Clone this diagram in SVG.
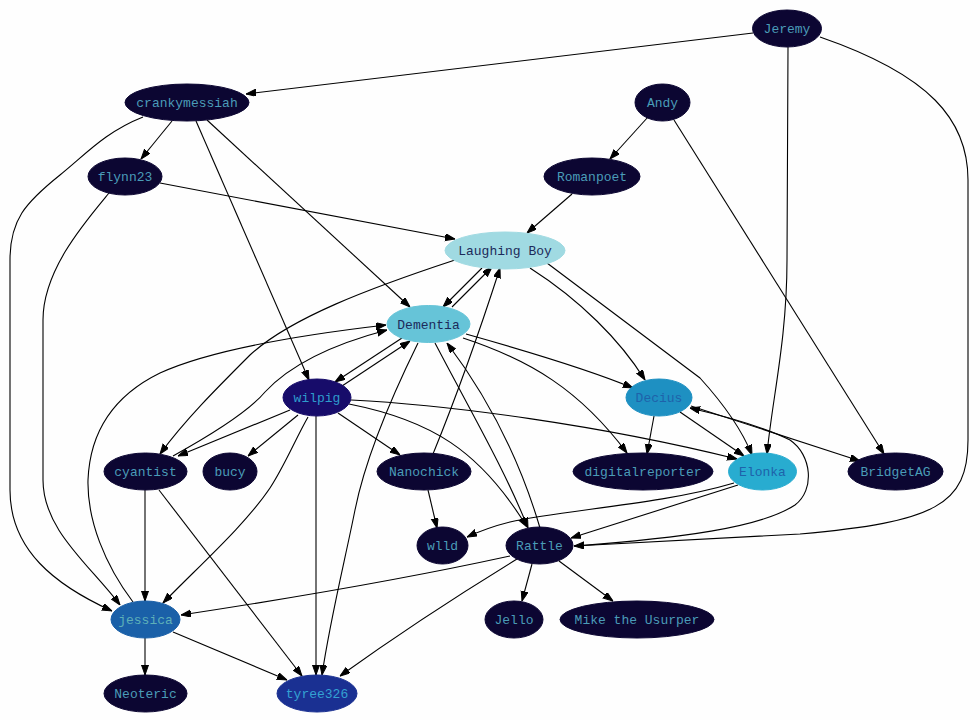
<svg xmlns="http://www.w3.org/2000/svg" width="980" height="720" viewBox="0 0 980 720">
<defs>
<marker id="ah" markerUnits="userSpaceOnUse" markerWidth="10" markerHeight="8" refX="10" refY="3.5" orient="auto">
<path d="M0,0 L10,3.5 L0,7 z" fill="#000" stroke="#000" stroke-width="1"/>
</marker>
<style>
.e{fill:none;stroke:#000;stroke-width:1.1;marker-end:url(#ah)}
text{font-family:"Liberation Mono","DejaVu Sans Mono",monospace;font-size:13px;text-anchor:middle}
.dk ellipse{fill:#0c0632;stroke:#0c0632}
.dk text{fill:#4a9cb8}
</style>
</defs>
<rect width="980" height="720" fill="#fefefe"/>
<g id="edges">
<path class="e" d="M753,33 L246,94"/>
<path class="e" d="M788,47 L787,260 C787,340 772,400 767,454"/>
<path class="e" d="M820,37 C930,75 968,120 968,180 L968,440 C968,505 935,522 800,534 L574,546"/>
<path class="e" d="M172,121 L141,159"/>
<path class="e" d="M143,117 C105,132 85,155 60,175 C25,203 10,220 10,260 L10,490 C10,550 55,585 112,611"/>
<path class="e" d="M196,121 L309,380"/>
<path class="e" d="M207,120 L410,307"/>
<path class="e" d="M648,117 L610,159"/>
<path class="e" d="M674,120 L884,454"/>
<path class="e" d="M160,183 L455,239"/>
<path class="e" d="M109,193 C85,222 43,270 43,320 L43,480 C43,530 90,565 120,605"/>
<path class="e" d="M572,194 L527,233"/>
<path class="e" d="M482,268 L443,307"/>
<path class="e" d="M452,307 L492,267"/>
<path class="e" d="M455,260 C370,288 290,318 250,355 C215,390 185,420 160,454"/>
<path class="e" d="M530,268 C580,300 620,340 645,380"/>
<path class="e" d="M547,263 L700,378 C720,400 740,425 752,455"/>
<path class="e" d="M433,454 C455,400 480,330 500,268"/>
<path class="e" d="M466,334 C530,352 590,370 633,388"/>
<path class="e" d="M463,338 C530,360 580,390 627,453"/>
<path class="e" d="M402,338 L335,382"/>
<path class="e" d="M342,386 L410,341"/>
<path class="e" d="M173,456 C220,430 250,410 265,392 C290,365 330,345 387,330"/>
<path class="e" d="M290,410 L178,456"/>
<path class="e" d="M133,602 C105,565 87,520 88,480 C90,430 115,395 160,373 C210,350 300,335 386,325"/>
<path class="e" d="M418,343 C390,400 365,460 355,510 C345,560 330,620 322,675"/>
<path class="e" d="M435,343 C470,410 505,470 528,528"/>
<path class="e" d="M540,528 C520,460 490,400 447,343"/>
<path class="e" d="M349,404 C430,420 480,450 527,527"/>
<path class="e" d="M298,415 L248,456"/>
<path class="e" d="M338,413 L400,455"/>
<path class="e" d="M308,417 C295,440 285,465 270,488 C245,525 200,565 163,603"/>
<path class="e" d="M316,416 L316,675"/>
<path class="e" d="M351,400 C450,405 600,425 737,459"/>
<path class="e" d="M654,416 L647,454"/>
<path class="e" d="M680,412 L744,456"/>
<path class="e" d="M691,406 L860,461"/>
<path class="e" d="M574,546 C680,538 760,528 795,505 C815,490 812,455 790,440 C760,425 720,415 690,408"/>
<path class="e" d="M734,483 C660,505 560,510 510,522 C490,527 478,532 467,537"/>
<path class="e" d="M738,485 L571,538"/>
<path class="e" d="M428,490 L437,528"/>
<path class="e" d="M510,556 C400,580 280,600 181,615"/>
<path class="e" d="M517,559 C450,600 390,640 340,676"/>
<path class="e" d="M532,564 L522,601"/>
<path class="e" d="M559,561 L613,601"/>
<path class="e" d="M145,490 L145,601"/>
<path class="e" d="M159,490 L302,676"/>
<path class="e" d="M145,637 L145,675"/>
<path class="e" d="M173,632 L287,680"/>
</g>
<g id="Jeremy" class="dk"><ellipse cx="787" cy="28.5" rx="34.5" ry="18.5"/><text x="787" y="33">Jeremy</text></g>
<g id="crankymessiah" class="dk"><ellipse cx="187" cy="102.5" rx="62" ry="18.5"/><text x="187" y="107">crankymessiah</text></g>
<g id="Andy" class="dk"><ellipse cx="662.5" cy="102.5" rx="27.5" ry="18.5"/><text x="662.5" y="107">Andy</text></g>
<g id="flynn23" class="dk"><ellipse cx="125" cy="176.5" rx="37" ry="18.5"/><text x="125" y="181">flynn23</text></g>
<g id="Romanpoet" class="dk"><ellipse cx="592" cy="176.5" rx="48" ry="18.5"/><text x="592" y="181">Romanpoet</text></g>
<g id="LaughingBoy"><ellipse cx="505" cy="250.5" rx="60" ry="18.5" fill="#a0dae2" stroke="#a0dae2"/><text x="505" y="255" fill="#1c2a5a">Laughing Boy</text></g>
<g id="Dementia"><ellipse cx="428.5" cy="324" rx="41.5" ry="18.5" fill="#66c4d8" stroke="#66c4d8"/><text x="428.5" y="328.5" fill="#1c2a5a">Dementia</text></g>
<g id="wilpig"><ellipse cx="317" cy="397.5" rx="34" ry="18.5" fill="#170c6a" stroke="#170c6a"/><text x="317" y="402" fill="#2e9ccc">wilpig</text></g>
<g id="Decius"><ellipse cx="659" cy="397.5" rx="33" ry="18.5" fill="#1e90c2" stroke="#1e90c2"/><text x="659" y="402" fill="#1e62aa">Decius</text></g>
<g id="cyantist" class="dk"><ellipse cx="145.5" cy="471.5" rx="41.5" ry="18.5"/><text x="145.5" y="476">cyantist</text></g>
<g id="bucy" class="dk"><ellipse cx="230" cy="471.5" rx="27" ry="18.5"/><text x="230" y="476">bucy</text></g>
<g id="Nanochick" class="dk"><ellipse cx="424" cy="471.5" rx="47" ry="18.5"/><text x="424" y="476">Nanochick</text></g>
<g id="digitalreporter" class="dk"><ellipse cx="643" cy="471.5" rx="70" ry="18.5"/><text x="643" y="476">digitalreporter</text></g>
<g id="Elonka"><ellipse cx="762.5" cy="471.5" rx="34" ry="18.5" fill="#28acd0" stroke="#28acd0"/><text x="762.5" y="476" fill="#1e62aa">Elonka</text></g>
<g id="BridgetAG" class="dk"><ellipse cx="895.5" cy="471.5" rx="47.5" ry="18.5"/><text x="895.5" y="476">BridgetAG</text></g>
<g id="wlld" class="dk"><ellipse cx="442.5" cy="545.5" rx="25.5" ry="18.5"/><text x="442.5" y="550">wlld</text></g>
<g id="Rattle" class="dk"><ellipse cx="539.5" cy="545.5" rx="33.5" ry="18.5"/><text x="539.5" y="550">Rattle</text></g>
<g id="jessica"><ellipse cx="145.5" cy="619.5" rx="34.5" ry="18.5" fill="#1a60a8" stroke="#1a60a8"/><text x="145.5" y="624" fill="#5eb0b8">jessica</text></g>
<g id="Jello" class="dk"><ellipse cx="514" cy="619.5" rx="29" ry="18.5"/><text x="514" y="624">Jello</text></g>
<g id="MiketheUsurper" class="dk"><ellipse cx="637" cy="619.5" rx="77" ry="18.5"/><text x="637" y="624">Mike the Usurper</text></g>
<g id="Neoteric" class="dk"><ellipse cx="145.5" cy="693.5" rx="41.5" ry="18.5"/><text x="145.5" y="698">Neoteric</text></g>
<g id="tyree326"><ellipse cx="317" cy="693.5" rx="40" ry="18.5" fill="#1a3092" stroke="#1a3092"/><text x="317" y="698" fill="#34a2d2">tyree326</text></g>
</svg>
